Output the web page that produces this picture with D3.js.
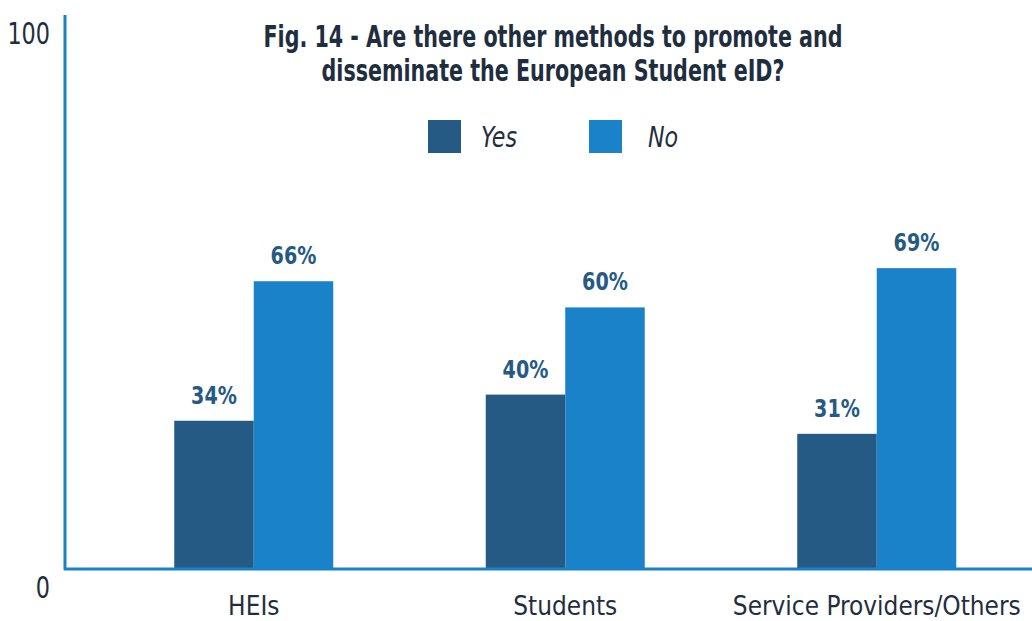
<!DOCTYPE html>
<html><head><meta charset="utf-8">
<script src="https://cdn.jsdelivr.net/npm/d3@7"></script>
<style>
body{margin:0;background:#fff;}
text{font-family:"Liberation Sans Narrow","DejaVu Sans Condensed","Roboto",sans-serif;}
</style></head>
<body><svg id="c" width="1032" height="621"></svg>
<script>
const categories = ["HEIs", "Students", "Service Providers/Others"];
const seriesNames = ["Yes", "No"];
const yesValues = [34, 40, 31];
const noValues = [66, 60, 69];
const yTicks = [0, 100];
const titleLines = ["Fig. 14 - Are there other methods to promote and", "disseminate the European Student eID?"];

const colors = {Yes: "#245a84", No: "#1982c8"};
const textColor = "#1f2e3f";
const svg = d3.select("#c");

// condense text horizontally to mimic the narrow typeface
function condense(sel, f) {
  sel.each(function() {
    const w = this.getComputedTextLength();
    d3.select(this).attr("textLength", w * f).attr("lengthAdjust", "spacingAndGlyphs");
  });
}

const x = d3.scaleBand().domain(categories).range([98, 1032.5]).padding(0);
const xs = d3.scaleBand().domain(seriesNames).range([-79.5, 79.5]).padding(0);
const y = d3.scaleLinear().domain([0, 100]).range([569, 133]);
const yLabel = d3.scaleLinear().domain([0, 100]).range([587, 33]);

const data = categories.map((c, i) => ({cat: c, vals: [{s: "Yes", v: yesValues[i]}, {s: "No", v: noValues[i]}]}));

// bars
const g = svg.append("g");
const grp = g.selectAll("g.cat").data(data).join("g")
  .attr("transform", d => `translate(${x(d.cat) + x.bandwidth()/2},0)`);
grp.selectAll("rect").data(d => d.vals).join("rect")
  .attr("x", d => xs(d.s)).attr("width", xs.bandwidth())
  .attr("y", d => y(d.v)).attr("height", d => y(0) - y(d.v))
  .attr("fill", d => colors[d.s]);
grp.selectAll("text.val").data(d => d.vals).join("text")
  .attr("class", "val")
  .attr("x", d => xs(d.s) + xs.bandwidth()/2)
  .attr("y", d => y(d.v) - 17)
  .attr("text-anchor", "middle")
  .attr("font-size", 25).attr("font-weight", "bold")
  .attr("fill", "#245a84")
  .text(d => d.v + "%")
  .call(condense, 0.85);

// axes lines
svg.append("line").attr("x1", 65).attr("x2", 65).attr("y1", 15).attr("y2", 570)
  .attr("stroke", "#1982c8").attr("stroke-width", 3);
svg.append("line").attr("x1", 64).attr("x2", 1032).attr("y1", 569).attr("y2", 569)
  .attr("stroke", "#1982c8").attr("stroke-width", 3);

// y tick labels
const ya = svg.append("g").attr("transform", "translate(50,0)")
  .call(d3.axisLeft(yLabel).tickValues(yTicks).tickSize(0).tickPadding(0));
ya.select(".domain").remove();
ya.selectAll("text").attr("font-size", 31).attr("fill", textColor)
  .attr("font-family", null).attr("dy", "0.35em").call(condense, 0.8);

// x category labels
const xa = svg.append("g").attr("transform", "translate(0,596)")
  .call(d3.axisBottom(x).tickSize(0).tickPadding(0));
xa.select(".domain").remove();
xa.selectAll("text").attr("font-size", 27).attr("fill", textColor)
  .attr("font-family", null).attr("dy", "0.71em").call(condense, 0.96);

// title
svg.append("g").selectAll("text").data(titleLines).join("text")
  .attr("x", 553).attr("y", (d, i) => 47 + i * 34)
  .attr("text-anchor", "middle").attr("font-size", 31).attr("font-weight", "bold")
  .attr("fill", textColor).text(d => d)
  .call(condense, 0.74);

// legend
const leg = svg.append("g").selectAll("g").data(seriesNames).join("g")
  .attr("transform", (d, i) => `translate(${428 + i * 161},120)`);
leg.append("rect").attr("width", 33).attr("height", 33).attr("fill", d => colors[d]);
leg.append("text").attr("x", d => d === "Yes" ? 53 : 59).attr("y", 27)
  .attr("font-size", 28).attr("font-style", "italic").attr("fill", textColor).text(d => d)
  .call(condense, 0.88);
</script></body></html>
